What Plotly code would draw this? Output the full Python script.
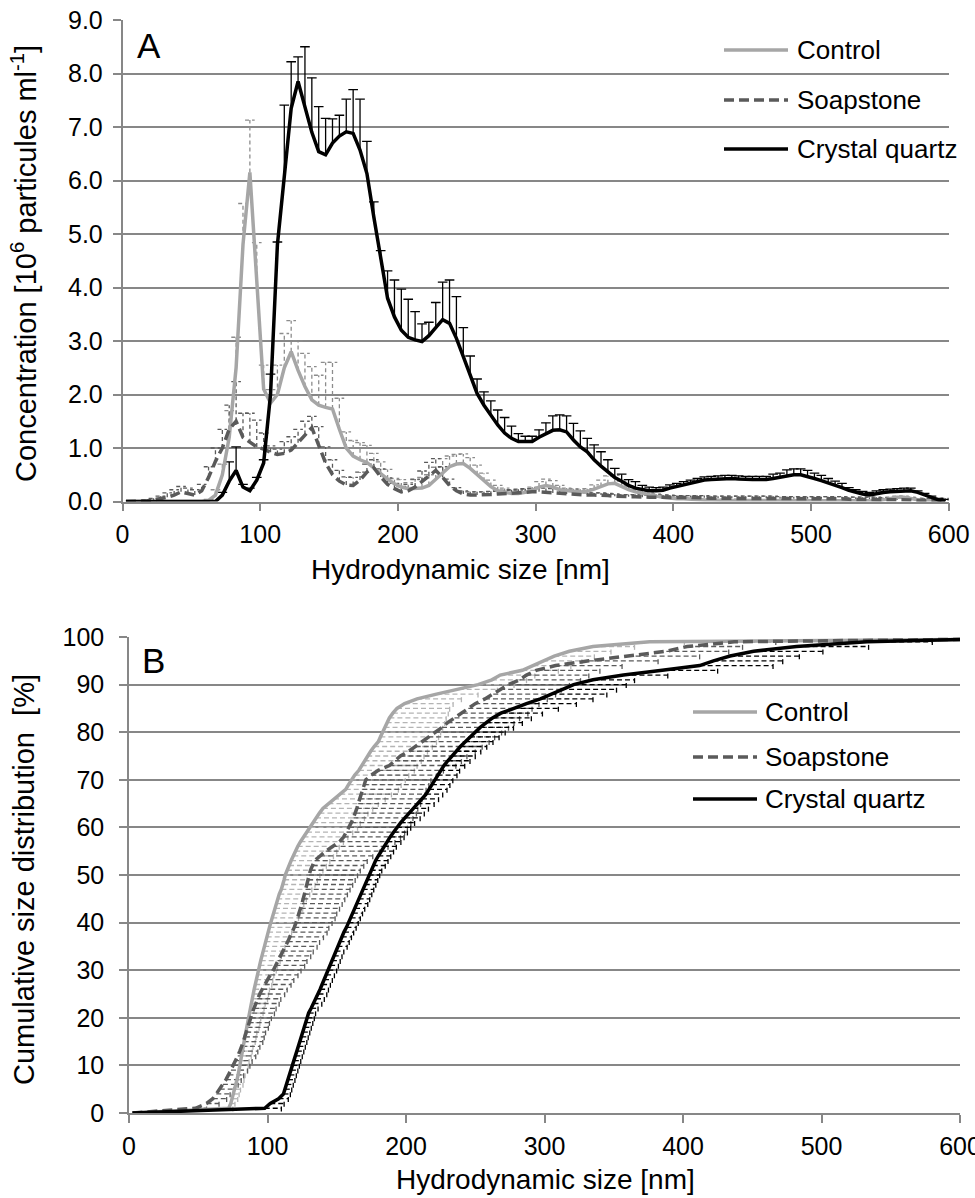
import plotly.graph_objects as go

# ---------------- Panel A data (size bins, concentration 10^6 particles/ml) ----------------
size_a = [
    2.5, 7.5, 12.5, 17.5, 22.5, 27.5, 32.5, 37.5, 42.5, 47.5,
    52.5, 57.5, 62.5, 67.5, 72.5, 77.5, 82.5, 87.5, 92.5, 97.5,
    102.5, 107.5, 112.5, 117.5, 122.5, 127.5, 132.5, 137.5, 142.5, 147.5,
    152.5, 157.5, 162.5, 167.5, 172.5, 177.5, 182.5, 187.5, 192.5, 197.5,
    202.5, 207.5, 212.5, 217.5, 222.5, 227.5, 232.5, 237.5, 242.5, 247.5,
    252.5, 257.5, 262.5, 267.5, 272.5, 277.5, 282.5, 287.5, 292.5, 297.5,
    302.5, 307.5, 312.5, 317.5, 322.5, 327.5, 332.5, 337.5, 342.5, 347.5,
    352.5, 357.5, 362.5, 367.5, 372.5, 377.5, 382.5, 387.5, 392.5, 397.5,
    402.5, 407.5, 412.5, 417.5, 422.5, 427.5, 432.5, 437.5, 442.5, 447.5,
    452.5, 457.5, 462.5, 467.5, 472.5, 477.5, 482.5, 487.5, 492.5, 497.5,
    502.5, 507.5, 512.5, 517.5, 522.5, 527.5, 532.5, 537.5, 542.5, 547.5,
    552.5, 557.5, 562.5, 567.5, 572.5, 577.5, 582.5, 587.5, 592.5, 597.5]

control_a = [
    0, 0, 0, 0, 0, 0, 0, 0, 0, 0,
    0, 0, 0.02, 0.12, 0.5, 1.2, 2.5, 4.8, 6.15, 4.2,
    2.1, 1.84, 2.0, 2.5, 2.8, 2.45, 2.15, 1.9, 1.8, 1.76,
    1.73, 1.35, 1.0, 0.85, 0.78, 0.73, 0.62, 0.52, 0.42, 0.33,
    0.27, 0.24, 0.24, 0.25, 0.3, 0.42, 0.55, 0.65, 0.7, 0.71,
    0.62, 0.5, 0.38, 0.28, 0.2, 0.17, 0.15, 0.15, 0.17, 0.21,
    0.27, 0.3, 0.27, 0.22, 0.2, 0.19, 0.18, 0.19, 0.23, 0.28,
    0.33, 0.34, 0.28, 0.22, 0.18, 0.15, 0.12, 0.1, 0.08, 0.06,
    0.05, 0.05, 0.04, 0.04, 0.03, 0.03, 0.02, 0.02, 0.02, 0.02,
    0.01, 0.01, 0.01, 0.01, 0.01, 0.01, 0.01, 0.01, 0.01, 0.01,
    0.01, 0.01, 0.01, 0.01, 0.01, 0.01, 0.01, 0.01, 0.01, 0.01,
    0.03, 0.06, 0.08, 0.08, 0.06, 0.03, 0.01, 0.01, 0, 0]
control_a_err = [
    0, 0, 0, 0, 0, 0, 0, 0, 0, 0,
    0, 0, 0.02, 0.1, 0.2, 0.5, 0.57, 0.77, 0.98, 0.64,
    0.45, 0.25, 0.55, 0.64, 0.58, 0.55, 0.62, 0.62, 0.56, 0.84,
    0.87, 0.58, 0.3, 0.29, 0.32, 0.32, 0.28, 0.22, 0.18, 0.1,
    0.14, 0.11, 0.17, 0.2, 0.2, 0.22, 0.25, 0.2, 0.18, 0.18,
    0.2, 0.18, 0.15, 0.12, 0.1, 0.08, 0.06, 0.06, 0.06, 0.06,
    0.1, 0.12, 0.12, 0.08, 0.05, 0.05, 0.05, 0.05, 0.08, 0.12,
    0.15, 0.15, 0.1, 0.07, 0.04, 0.04, 0.04, 0.04, 0.04, 0.04,
    0.02, 0.02, 0.02, 0.02, 0.02, 0.02, 0.02, 0.02, 0.02, 0.02,
    0.02, 0.02, 0.02, 0.02, 0.02, 0.02, 0.02, 0.02, 0.02, 0.02,
    0.02, 0.02, 0.02, 0.02, 0.02, 0.02, 0.02, 0.02, 0.02, 0.02,
    0.02, 0.02, 0.02, 0.02, 0.02, 0.02, 0.02, 0.02, 0.02, 0.02]

soap_a = [
    0, 0, 0, 0.01, 0.03, 0.05, 0.08, 0.12, 0.18, 0.15,
    0.12, 0.2, 0.45, 0.75, 1.0, 1.35, 1.5, 1.2, 1.1, 1.02,
    0.98, 0.92, 0.88, 0.9, 0.96, 1.1, 1.25, 1.38, 1.05, 0.72,
    0.5, 0.38, 0.31, 0.3, 0.4, 0.55, 0.63, 0.46, 0.32, 0.24,
    0.18, 0.2, 0.27, 0.37, 0.48, 0.58, 0.45, 0.3, 0.2, 0.14,
    0.12, 0.12, 0.12, 0.13, 0.14, 0.15, 0.16, 0.17, 0.18, 0.18,
    0.18, 0.17, 0.16, 0.15, 0.14, 0.13, 0.12, 0.12, 0.12, 0.12,
    0.11, 0.1, 0.09, 0.09, 0.09, 0.08, 0.08, 0.08, 0.08, 0.08,
    0.07, 0.07, 0.07, 0.07, 0.07, 0.06, 0.06, 0.06, 0.06, 0.06,
    0.06, 0.06, 0.06, 0.06, 0.06, 0.05, 0.05, 0.05, 0.05, 0.05,
    0.05, 0.05, 0.05, 0.05, 0.05, 0.04, 0.04, 0.04, 0.04, 0.04,
    0.03, 0.03, 0.03, 0.03, 0.03, 0.02, 0.02, 0.02, 0.02, 0.02]
soap_a_err = [
    0, 0, 0, 0.02, 0.03, 0.05, 0.08, 0.1, 0.1, 0.1,
    0.1, 0.12, 0.2, 0.25, 0.35, 0.45, 0.74, 0.45, 0.55, 0.5,
    0.3, 0.12, 0.1, 0.22, 0.25, 0.25, 0.25, 0.21, 0.35, 0.3,
    0.28, 0.2, 0.15, 0.15, 0.15, 0.15, 0.15, 0.15, 0.12, 0.1,
    0.1, 0.12, 0.15, 0.2, 0.25, 0.22, 0.2, 0.12, 0.06, 0.06,
    0.06, 0.06, 0.06, 0.06, 0.06, 0.06, 0.06, 0.06, 0.06, 0.06,
    0.08, 0.08, 0.08, 0.08, 0.08, 0.08, 0.08, 0.04, 0.04, 0.04,
    0.04, 0.04, 0.04, 0.04, 0.04, 0.04, 0.04, 0.04, 0.04, 0.04,
    0.04, 0.04, 0.04, 0.04, 0.04, 0.04, 0.04, 0.04, 0.04, 0.04,
    0.04, 0.04, 0.04, 0.04, 0.04, 0.04, 0.04, 0.04, 0.04, 0.04,
    0.04, 0.04, 0.04, 0.04, 0.04, 0.04, 0.04, 0.04, 0.04, 0.04,
    0.04, 0.04, 0.04, 0.04, 0.04, 0.04, 0.04, 0.04, 0.04, 0.04]

quartz_a = [
    0, 0, 0, 0, 0, 0, 0, 0, 0, 0,
    0, 0, 0, 0, 0.12, 0.38, 0.58, 0.27, 0.2, 0.4,
    0.72, 2.0, 4.8, 6.0, 7.35, 7.85, 7.4, 6.9, 6.54, 6.48,
    6.7, 6.83, 6.91, 6.88, 6.57, 6.13, 5.32, 4.6, 3.8, 3.45,
    3.2, 3.07, 3.02, 2.99, 3.1, 3.25, 3.4, 3.33, 3.05, 2.71,
    2.35, 2.02, 1.8, 1.6, 1.43, 1.28, 1.18, 1.12, 1.12, 1.12,
    1.2, 1.27, 1.33, 1.34, 1.3, 1.15, 1.02, 0.93, 0.78, 0.66,
    0.55, 0.45, 0.38, 0.3, 0.25, 0.22, 0.2, 0.2, 0.21, 0.25,
    0.28, 0.31, 0.34, 0.37, 0.4, 0.41, 0.42, 0.43, 0.43, 0.42,
    0.41, 0.41, 0.41, 0.41, 0.43, 0.45, 0.48, 0.5, 0.5, 0.47,
    0.43, 0.39, 0.35, 0.3, 0.26, 0.21, 0.17, 0.14, 0.12, 0.15,
    0.17, 0.18, 0.19, 0.2, 0.2, 0.17, 0.12, 0.07, 0.03, 0.01]
quartz_a_err = [
    0, 0, 0, 0, 0, 0, 0, 0, 0, 0,
    0, 0, 0, 0, 0.05, 0.36, 0.44, 0.05, 0.05, 0.05,
    0.06, 0.38, 0.05, 1.41, 0.87, 0.46, 1.1, 1.02, 0.84, 0.68,
    0.45, 0.39, 0.61, 0.82, 0.95, 0.6, 0.28, 0.09, 0.51, 0.69,
    0.77, 0.71, 0.53, 0.33, 0.25, 0.47, 0.7, 0.81, 0.78, 0.54,
    0.37, 0.27, 0.25, 0.28, 0.28, 0.29, 0.23, 0.15, 0.1, 0.1,
    0.14, 0.2, 0.27, 0.28, 0.3, 0.31, 0.3, 0.25, 0.28, 0.27,
    0.23, 0.17, 0.13, 0.11, 0.12, 0.08, 0.07, 0.06, 0.06, 0.06,
    0.06, 0.06, 0.06, 0.06, 0.06, 0.06, 0.06, 0.06, 0.06, 0.06,
    0.06, 0.06, 0.06, 0.06, 0.08, 0.08, 0.11, 0.11, 0.11, 0.11,
    0.1, 0.1, 0.08, 0.08, 0.08, 0.05, 0.05, 0.05, 0.05, 0.05,
    0.05, 0.05, 0.05, 0.05, 0.05, 0.03, 0.03, 0.03, 0.03, 0.03]

# ---------------- Panel B data (cumulative %, size at each level) ----------------
pct_b = [
    0, 1, 2, 3, 4, 5, 6, 7, 8, 9,
    10, 11, 12, 13, 14, 15, 16, 17, 18, 19,
    20, 21, 22, 23, 24, 25, 26, 27, 28, 29,
    30, 31, 32, 33, 34, 35, 36, 37, 38, 39,
    40, 41, 42, 43, 44, 45, 46, 47, 48, 49,
    50, 51, 52, 53, 54, 55, 56, 57, 58, 59,
    60, 61, 62, 63, 64, 65, 66, 67, 68, 69,
    70, 71, 72, 73, 74, 75, 76, 77, 78, 79,
    80, 81, 82, 83, 84, 85, 86, 87, 88, 89,
    90, 91, 92, 93, 94, 95, 96, 97, 98, 99, 99.5]

control_b = [
    2.5, 72, 73.5, 74.5, 75.5, 76.5, 77.3, 78, 78.8, 79.5,
    80.1, 80.7, 81.3, 81.9, 82.5, 83.1, 83.7, 84.3, 84.9, 85.5,
    86.1, 86.8, 87.5, 88.3, 89, 89.7, 90.4, 91.1, 91.8, 92.6,
    93.3, 94.2, 95.1, 96, 96.8, 97.6, 98.5, 99.4, 100.4, 101.4,
    102.4, 103.4, 104.4, 105.4, 106.2, 107, 108.5, 110, 111.3, 112,
    112.8, 114, 115.5, 117, 118.6, 120, 121.8, 123.8, 126, 128.5,
    131, 133, 135, 137.5, 140, 144, 148, 152.5, 156.5, 158.5,
    160.5, 163, 166, 168, 170, 172, 174.5, 177, 180, 181.5,
    183, 184.5, 186, 188, 190.5, 193.5, 199, 208, 222, 238,
    252, 262, 268, 284, 292, 299, 307, 318, 335, 376, 600]
control_b_err = [
    0, 3, 3, 4, 4, 4, 5, 5, 5, 6,
    6, 6, 7, 7, 7, 8, 8, 8, 9, 9,
    9, 10, 10, 10, 11, 11, 11, 12, 12, 12,
    13, 13, 14, 14, 15, 15, 16, 16, 17, 18,
    18, 19, 19, 20, 20, 21, 22, 22, 23, 24,
    25, 26, 27, 28, 29, 30, 30, 31, 32, 33,
    34, 34, 35, 35, 36, 36, 37, 37, 38, 38,
    39, 39, 40, 40, 41, 41, 41, 42, 42, 42,
    42, 42, 42, 41, 40, 38, 35, 32, 30, 28,
    26, 25, 25, 26, 27, 28, 29, 30, 30, 25, 0]

soap_b = [
    2.5, 48, 56, 60.5, 63, 65.5, 67.8, 70, 71.8, 73.6,
    75.3, 76.9, 78.5, 80, 81.5, 82.6, 83.6, 84.6, 85.6, 86.4,
    87.8, 89, 90.2, 91.4, 92.6, 94.4, 96.2, 98, 100, 102,
    104.2, 105.8, 107.5, 109.2, 111, 112.8, 114.6, 116.4, 118, 119.3,
    120.6, 121.8, 123, 124, 124.9, 125.8, 126.7, 127.6, 128.5, 129.3,
    130, 131, 132.5, 134, 138, 142, 147, 152, 155, 157,
    159, 160.5, 162, 163.5, 164.5, 165.5, 166.5, 167.5, 168.5, 169.5,
    171, 175, 180, 188, 192, 196, 202, 207, 212, 216,
    221, 226, 230, 235, 241, 245, 250, 257, 263, 268,
    274, 282, 287, 294, 308, 332, 360, 388, 403, 437, 600]
soap_b_err = [
    0, 8, 9, 10, 10, 10, 11, 11, 11, 12,
    12, 12, 13, 13, 13, 14, 14, 14, 15, 15,
    15, 16, 16, 17, 17, 18, 18, 19, 19, 20,
    20, 21, 21, 22, 22, 23, 23, 24, 25, 25,
    26, 27, 27, 28, 29, 30, 31, 32, 33, 34,
    35, 36, 37, 38, 38, 39, 40, 40, 41, 42,
    42, 43, 43, 44, 44, 45, 45, 46, 46, 47,
    47, 47, 47, 48, 48, 48, 48, 48, 48, 48,
    48, 48, 48, 47, 47, 46, 46, 45, 45, 44,
    44, 44, 45, 46, 48, 50, 52, 45, 40, 30, 0]

quartz_b = [
    2.5, 98, 102, 108, 111.5, 112.5, 113.6, 114.8, 115.8, 116.9,
    118, 119, 120.1, 121.2, 122.3, 123.4, 124.4, 125.5, 126.6, 127.7,
    128.8, 129.7, 131.5, 133.2, 135, 136.8, 138, 139.4, 140.8, 142.3,
    143.9, 145.2, 146.5, 147.8, 149.1, 150.5, 152, 153.6, 155.2, 157,
    158.5, 160, 161.6, 163.2, 164.4, 165.8, 167.3, 168.7, 170.2, 171.6,
    173, 174.5, 176, 178, 180, 182, 184, 186.3, 188.6, 191,
    193.4, 196.2, 199.2, 202.2, 205.2, 208.3, 211.5, 214.5, 216.6, 218.7,
    220.8, 222.8, 224.7, 227.4, 230.2, 233, 236, 239.3, 242.8, 246.2,
    249.6, 253.6, 258, 262.5, 268.5, 277, 287, 297, 305, 312,
    321, 335, 357, 385, 412, 422, 434, 451, 482, 533, 600]
quartz_b_err = [
    0, 12, 10, 7, 5, 5, 5, 5, 5, 5,
    5, 5, 5, 5, 5, 5, 5, 5, 5, 5,
    5, 5, 5, 6, 6, 6, 6, 6, 6, 6,
    6, 6, 6, 6, 6, 7, 7, 7, 7, 7,
    7, 7, 7, 7, 8, 8, 8, 8, 8, 8,
    8, 8, 9, 9, 9, 9, 9, 10, 10, 10,
    10, 10, 11, 11, 11, 12, 12, 12, 13, 13,
    13, 14, 14, 15, 16, 17, 18, 19, 20, 21,
    22, 24, 26, 28, 30, 33, 36, 38, 40, 40,
    38, 30, 32, 40, 53, 50, 50, 50, 52, 47, 0]

series_names = ["Control", "Soapstone", "Crystal quartz"]

# ---------------- styles ----------------
FONT = "Liberation Sans, Arial, sans-serif"
GRID = "#878787"
C_CONTROL = "#a6a6a6"
C_SOAP = "#5a5a5a"
C_QUARTZ = "#000000"
SOAP_DASH = "10px,5px"
W_LINE = 3.5
W_ERR = 1.3
W, H = 975, 1198


def vbars(xs, ys, es, cap):
    bx, by = [], []
    for x, y, e in zip(xs, ys, es):
        if e <= 0:
            continue
        bx += [x, x, None, x - cap, x + cap, None]
        by += [y, y + e, None, y + e, y + e, None]
    return bx, by


def hbars(xs, ys, es, cap):
    bx, by = [], []
    for x, y, e in zip(xs, ys, es):
        if e <= 0:
            continue
        bx += [x, x + e, None, x + e, x + e, None]
        by += [y, y, None, y - cap, y + cap, None]
    return bx, by


fig = go.Figure()

# ---- Panel A error bars ----
for vals, errs, col, dash in [
    (control_a, control_a_err, "#8c8c8c", "4px,3px"),
    (soap_a, soap_a_err, "#5a5a5a", "4px,3px"),
    (quartz_a, quartz_a_err, "#000000", "solid"),
]:
    bx, by = vbars(size_a, vals, errs, 3.5)
    fig.add_trace(go.Scatter(x=bx, y=by, mode="lines", xaxis="x", yaxis="y",
                             line=dict(color=col, width=W_ERR, dash=dash),
                             hoverinfo="skip", showlegend=False))

# ---- Panel A lines ----
fig.add_trace(go.Scatter(x=size_a, y=control_a, name=series_names[0], mode="lines",
                         xaxis="x", yaxis="y", line=dict(color=C_CONTROL, width=W_LINE)))
fig.add_trace(go.Scatter(x=size_a, y=soap_a, name=series_names[1], mode="lines",
                         xaxis="x", yaxis="y", line=dict(color=C_SOAP, width=W_LINE, dash=SOAP_DASH)))
fig.add_trace(go.Scatter(x=size_a, y=quartz_a, name=series_names[2], mode="lines",
                         xaxis="x", yaxis="y", line=dict(color=C_QUARTZ, width=W_LINE)))

# ---- Panel B error bars ----
for vals, errs, col in [
    (control_b, control_b_err, "#b4b4b4"),
    (soap_b, soap_b_err, "#5a5a5a"),
    (quartz_b, quartz_b_err, "#000000"),
]:
    bx, by = hbars(vals, pct_b, errs, 0.7)
    fig.add_trace(go.Scatter(x=bx, y=by, mode="lines", xaxis="x2", yaxis="y2",
                             line=dict(color=col, width=W_ERR, dash="5px,3px"),
                             hoverinfo="skip", showlegend=False))

# ---- Panel B lines ----
fig.add_trace(go.Scatter(x=control_b, y=pct_b, name=series_names[0], mode="lines",
                         xaxis="x2", yaxis="y2", line=dict(color=C_CONTROL, width=W_LINE)))
fig.add_trace(go.Scatter(x=soap_b, y=pct_b, name=series_names[1], mode="lines",
                         xaxis="x2", yaxis="y2", line=dict(color=C_SOAP, width=W_LINE, dash=SOAP_DASH)))
fig.add_trace(go.Scatter(x=quartz_b, y=pct_b, name=series_names[2], mode="lines",
                         xaxis="x2", yaxis="y2", line=dict(color=C_QUARTZ, width=W_LINE)))


def fx(px):
    return px / W


def fy(py):
    return 1 - py / H


axis_common = dict(
    ticks="outside", ticklen=8, tickwidth=1.5, tickcolor=GRID,
    showline=True, linecolor=GRID, linewidth=1.5, zeroline=False,
    automargin=False, ticklabeloverflow="allow",
    tickfont=dict(family=FONT, size=25, color="black"),
)

fig.update_layout(
    width=W, height=H,
    margin=dict(l=0, r=0, t=0, b=0, autoexpand=False),
    paper_bgcolor="white", plot_bgcolor="white",
    showlegend=False,
    font=dict(family=FONT, color="black"),
    xaxis=dict(domain=[fx(122.5), fx(948.7)], range=[0, 600], tickvals=[0, 100, 200, 300, 400, 500, 600],
               showgrid=False, anchor="y", ticklabelstandoff=2, **axis_common),
    yaxis=dict(domain=[fy(501.5), fy(20)], range=[0, 9], tickvals=[0, 1, 2, 3, 4, 5, 6, 7, 8, 9],
               tickformat=".1f", showgrid=True, gridcolor=GRID, gridwidth=1.5, anchor="x",
               ticklabelstandoff=5, **axis_common),
    xaxis2=dict(domain=[fx(129), fx(960)], range=[0, 600], tickvals=[0, 100, 200, 300, 400, 500, 600],
                showgrid=False, anchor="y2", ticklabelstandoff=2, **axis_common),
    yaxis2=dict(domain=[fy(1113), fy(637)], range=[0, 100], tickvals=[0, 10, 20, 30, 40, 50, 60, 70, 80, 90, 100],
                showgrid=True, gridcolor=GRID, gridwidth=1.5, anchor="x2",
                ticklabelstandoff=10, **axis_common),
)

shapes = []
annotations = []

# custom legends (white boxes hide gridlines behind them)
legend_specs = [
    # (box x0, x1, y0, y1, line x0, x1, text x, [row y])
    (716, 975, 26, 174, 724, 788, 795, [50, 100, 149]),
    (645, 975, 690, 822, 693, 757, 763, [712, 757, 799]),
]
styles = [(C_CONTROL, "solid"), (C_SOAP, SOAP_DASH), (C_QUARTZ, "solid")]
for bx0, bx1, by0, by1, lx0, lx1, tx, rows in legend_specs:
    shapes.append(dict(type="rect", xref="paper", yref="paper", layer="between",
                       x0=fx(bx0), x1=fx(bx1), y0=fy(by1), y1=fy(by0),
                       fillcolor="white", line=dict(width=0)))
    for name, (col, dash), ry in zip(series_names, styles, rows):
        shapes.append(dict(type="line", xref="paper", yref="paper", layer="above",
                           x0=fx(lx0), x1=fx(lx1), y0=fy(ry), y1=fy(ry),
                           line=dict(color=col, width=W_LINE, dash=dash)))
        annotations.append(dict(text=name, xref="paper", yref="paper", x=fx(tx), y=fy(ry),
                                xanchor="left", yanchor="middle", showarrow=False,
                                font=dict(family=FONT, size=26, color="black")))

# axis titles and panel letters
annotations += [
    dict(text="Hydrodynamic size [nm]", x=fx(460), y=fy(569), xref="paper", yref="paper",
         xanchor="center", yanchor="middle", showarrow=False, font=dict(family=FONT, size=28)),
    dict(text="Hydrodynamic size [nm]", x=fx(545), y=fy(1179), xref="paper", yref="paper",
         xanchor="center", yanchor="middle", showarrow=False, font=dict(family=FONT, size=28)),
    dict(text="Concentration [10<sup>6</sup> particules ml<sup>-1</sup>]", x=fx(24), y=fy(264),
         xref="paper", yref="paper", xanchor="center", yanchor="middle", textangle=-90,
         showarrow=False, font=dict(family=FONT, size=29)),
    dict(text="Cumulative size distribution\u00a0 [%]", x=fx(24), y=fy(880),
         xref="paper", yref="paper", xanchor="center", yanchor="middle", textangle=-90,
         showarrow=False, font=dict(family=FONT, size=29)),
    dict(text="A", x=fx(135), y=fy(46), xref="paper", yref="paper", xanchor="left", yanchor="middle",
         showarrow=False, font=dict(family=FONT, size=35)),
    dict(text="B", x=fx(140), y=fy(660), xref="paper", yref="paper", xanchor="left", yanchor="middle",
         showarrow=False, font=dict(family=FONT, size=35)),
]

fig.update_layout(shapes=shapes, annotations=annotations)

fig.write_html("out.html", config={"displayModeBar": False},
               post_script="document.body.style.margin='0px';")
